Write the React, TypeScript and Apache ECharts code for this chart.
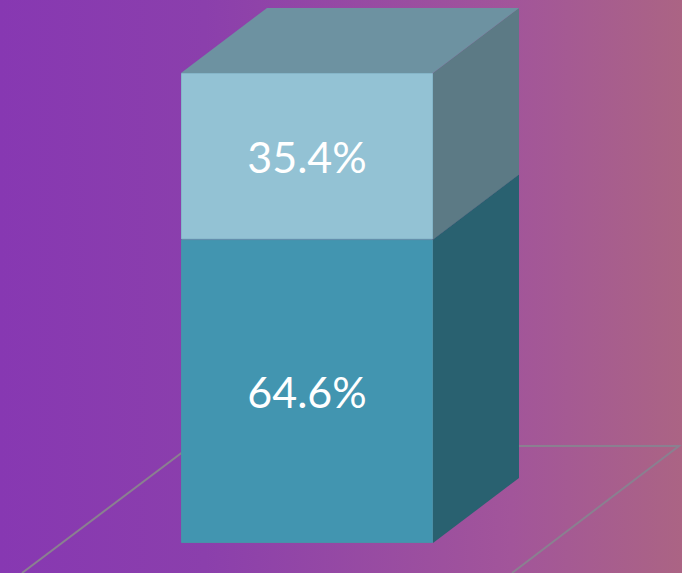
import React, { useEffect, useRef } from "react";
import * as echarts from "echarts";

const categories = ["Share"];
const lowerValues = [64.6];
const upperValues = [35.4];
const lowerLabels = ["64.6%"];
const upperLabels = ["35.4%"];

const WIDTH = 682;
const HEIGHT = 573;
const BAR_WIDTH = 252;
const DEPTH_X = 86;
const DEPTH_Y = 65;

const makeRenderItem =
  (labels: string[], front: string, side: string, top: string, edge: string) =>
  (params: any, api: any) => {
    const start = api.value(1);
    const end = api.value(2);
    const base = api.coord([api.value(0), start]);
    const head = api.coord([api.value(0), end]);
    const left = base[0] - BAR_WIDTH / 2;
    const right = base[0] + BAR_WIDTH / 2;
    const y0 = base[1];
    const y1 = head[1];
    const children: any[] = [
      {
        type: "polygon",
        shape: {
          points: [
            [right, y0],
            [right + DEPTH_X, y0 - DEPTH_Y],
            [right + DEPTH_X, y1 - DEPTH_Y],
            [right, y1],
          ],
        },
        style: { fill: side },
      },
      {
        type: "polygon",
        shape: {
          points: [
            [left, y1],
            [left + DEPTH_X, y1 - DEPTH_Y],
            [right + DEPTH_X, y1 - DEPTH_Y],
            [right, y1],
          ],
        },
        style: { fill: top },
      },
      {
        type: "rect",
        shape: { x: left + 0.5, y: y1 + 0.5, width: BAR_WIDTH - 1, height: y0 - y1 - 1 },
        style: { fill: front, stroke: edge, lineWidth: 1 },
      },
      {
        type: "text",
        x: base[0],
        y: (y0 + y1) / 2,
        style: {
          text: labels[params.dataIndex],
          fill: "#ffffff",
          fontSize: 43,
          fontFamily: "Lato, 'Open Sans', sans-serif",
          textAlign: "center",
          textVerticalAlign: "middle",
        },
      },
    ];
    return { type: "group", children };
  };

export default function App() {
  const ref = useRef<HTMLDivElement>(null);
  useEffect(() => {
    document.body.style.margin = "0";
    const chart = echarts.init(ref.current!, undefined, { renderer: "svg" });
    const lowerData = categories.map((c, i) => [i, 0, lowerValues[i]]);
    const upperData = categories.map((c, i) => [i, lowerValues[i], lowerValues[i] + upperValues[i]]);
    const lineStyle = { stroke: "#8a8090", lineWidth: 2, fill: "none" };
    chart.setOption({
      animation: false,
      backgroundColor: {
        type: "linear",
        x: 0,
        y: 0,
        x2: 1,
        y2: 0,
        colorStops: [
          { offset: 0, color: "#8738b2" },
          { offset: 0.3, color: "#8b3fac" },
          { offset: 0.75, color: "#a2559a" },
          { offset: 1, color: "#ab6484" },
        ],
      },
      grid: { left: 0, top: 73, width: 614, height: 470 },
      xAxis: { type: "category", data: categories, show: false },
      yAxis: { type: "value", min: 0, max: 100, show: false },
      graphic: [
        {
          type: "polyline",
          z: 0,
          shape: { points: [[22, 573], [200, 439]] },
          style: lineStyle,
        },
        {
          type: "polyline",
          z: 0,
          shape: { points: [[500, 446], [679, 446], [512, 573]] },
          style: lineStyle,
        },
      ],
      series: [
        {
          type: "custom",
          z: 5,
          renderItem: makeRenderItem(lowerLabels, "#4295b0", "#296170", "#296170", "#4a90a8"),
          encode: { x: 0, y: [1, 2] },
          data: lowerData,
          clip: false,
        },
        {
          type: "custom",
          z: 6,
          renderItem: makeRenderItem(upperLabels, "#93c2d4", "#5c7a85", "#6d92a1", "#85b5c8"),
          encode: { x: 0, y: [1, 2] },
          data: upperData,
          clip: false,
        },
      ],
    });
    return () => chart.dispose();
  }, []);
  return <div ref={ref} style={{ width: WIDTH, height: HEIGHT }} />;
}
